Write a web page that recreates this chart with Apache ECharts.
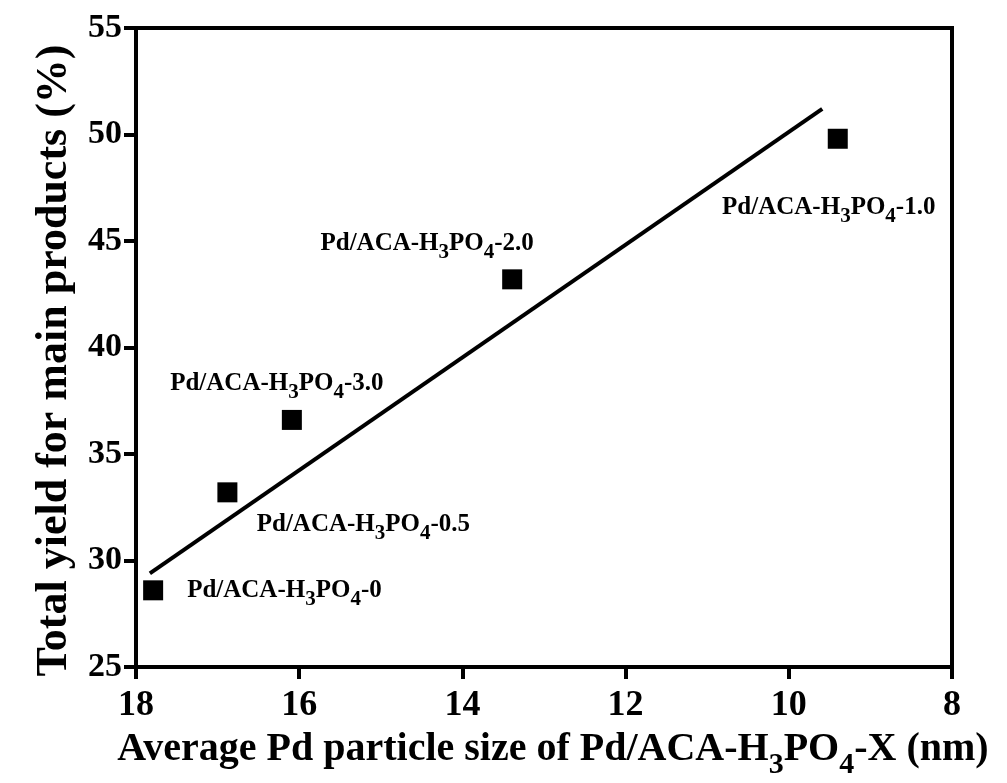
<!DOCTYPE html>
<html><head><meta charset="utf-8">
<script src="https://cdn.jsdelivr.net/npm/echarts@6/dist/echarts.min.js"></script>
<style>html,body{margin:0;padding:0;background:#fff}#c{width:1007px;height:783px}</style>
</head><body><div id="c"></div>
<script>
var sampleNames = ['0', '0.5', '3.0', '2.0', '1.0'];
var particleSize = [17.79, 16.88, 16.09, 13.39, 9.40];
var totalYield = [28.6, 33.2, 36.6, 43.2, 49.8];
var fitX = [17.83, 9.59];
var fitY = [29.4, 51.2];
var xTicks = [8, 10, 12, 14, 16, 18];
var yTicks = [25, 30, 35, 40, 45, 50, 55];

var FONT = '"Liberation Serif", "Times New Roman", serif';
var rich = {
  a: {fontFamily: FONT, fontWeight: 'bold', fontSize: 25, color: '#000', lineHeight: 26, verticalAlign: 'top'},
  s: {fontFamily: FONT, fontWeight: 'bold', fontSize: 21, color: '#000', lineHeight: 32, verticalAlign: 'bottom'}
};
var labelOffsets = [[0, 0], [136, 36], [-15, -33], [-85, -32], [-9, 72]];
var labelPos = ['right', 'inside', 'inside', 'inside', 'inside'];

var pts = particleSize.map(function (x, i) {
  var pos = labelPos[i];
  var lbl = {show: true, position: pos, distance: 24, rich: rich, color: '#000',
    formatter: '{a|Pd/ACA-H}{s|3}{a|PO}{s|4}{a|-' + sampleNames[i] + '}'};
  if (pos === 'inside') {
    lbl.offset = labelOffsets[i];
  } else {
    lbl.offset = [0, 4];
  }
  return {value: [x, totalYield[i]], label: lbl};
});

var chart = echarts.init(document.getElementById('c'));
chart.setOption({
  backgroundColor: '#fff',
  animation: false,
  grid: {left: 136, top: 28, right: 55, bottom: 116, outerBoundsMode: 'none', containLabel: false,
    show: true, borderColor: '#000', borderWidth: 4, backgroundColor: 'transparent'},
  xAxis: {
    type: 'value', inverse: true, min: xTicks[0], max: xTicks[xTicks.length - 1], interval: 2,
    axisLine: {show: true, lineStyle: {color: '#000', width: 4}},
    axisTick: {show: true, length: 12, lineStyle: {color: '#000', width: 4}},
    splitLine: {show: false},
    axisLabel: {margin: 21, color: '#000', fontFamily: FONT, fontWeight: 'bold', fontSize: 36},
    name: '{a|Average Pd particle size of Pd/ACA-H}{s|3}{a|PO}{s|4}{a|-X (nm)}',
    nameLocation: 'middle', nameGap: 63,
    nameTextStyle: {padding: [0, 0, 0, 18], rich: {
      a: {fontFamily: FONT, fontWeight: 'bold', fontSize: 40, color: '#000', lineHeight: 40, verticalAlign: 'top'},
      s: {fontFamily: FONT, fontWeight: 'bold', fontSize: 30, color: '#000', lineHeight: 50, verticalAlign: 'bottom'}
    }}
  },
  yAxis: {
    type: 'value', min: yTicks[0], max: yTicks[yTicks.length - 1], interval: 5,
    axisLine: {show: true, lineStyle: {color: '#000', width: 4}},
    axisTick: {show: true, length: 12, lineStyle: {color: '#000', width: 4}},
    splitLine: {show: false},
    axisLabel: {margin: 14, color: '#000', fontFamily: FONT, fontWeight: 'bold', fontSize: 34},
    name: 'Total yield for main products (%)',
    nameLocation: 'middle', nameGap: 48,
    nameTextStyle: {fontFamily: FONT, fontWeight: 'bold', fontSize: 44, color: '#000', padding: [0, 26, 0, 0]}
  },
  series: [
    {type: 'line', data: fitX.map(function (x, i) { return [x, fitY[i]]; }), symbol: 'none',
     lineStyle: {color: '#000', width: 4}, z: 3},
    {type: 'scatter', data: pts, symbol: 'rect', symbolSize: 20,
     itemStyle: {color: '#000', opacity: 1}, z: 4}
  ]
});
</script></body></html>
